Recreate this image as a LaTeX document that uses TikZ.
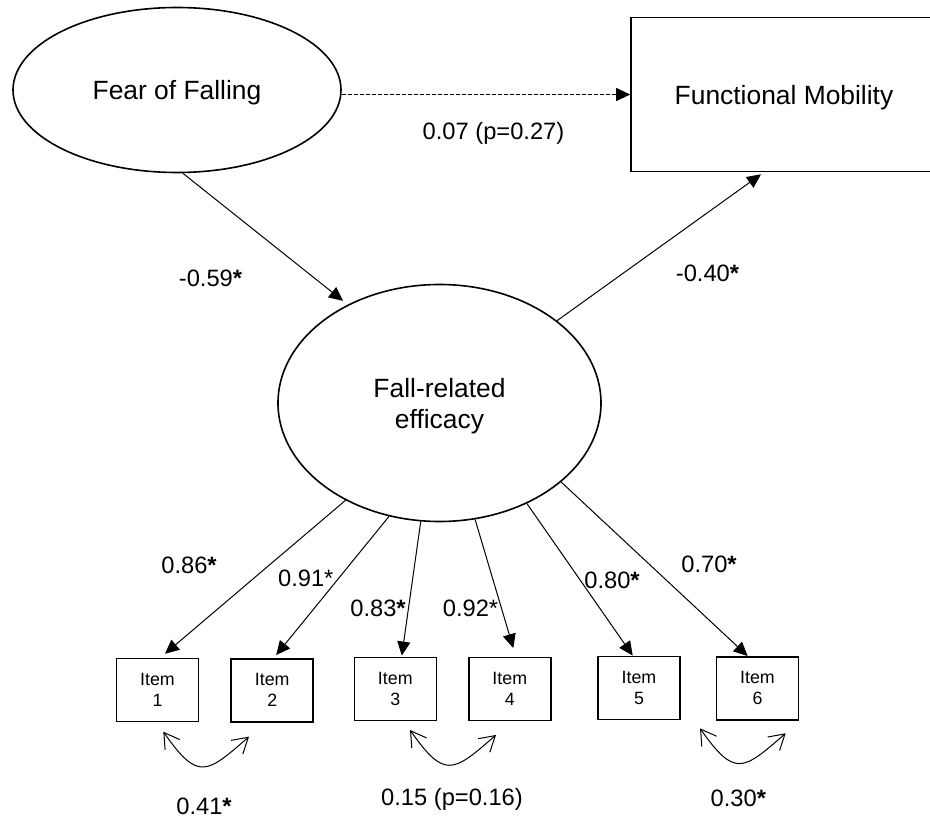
\documentclass[tikz,border=0pt]{standalone}
\usepackage{fontspec}
\setmainfont{Liberation Sans}
\usetikzlibrary{arrows.meta,shapes.geometric}
\begin{document}
\begin{tikzpicture}[x=1pt,y=-1pt,
  latent/.style={ellipse,draw,line width=1.6pt,inner sep=0pt,align=center,
    font=\fontsize{26.4}{31}\selectfont,text depth=0pt},
  obsbig/.style={rectangle,draw,line width=1.6pt,inner sep=0pt,
    font=\fontsize{26.4}{31}\selectfont,text depth=0pt},
  itembox/.style={rectangle,draw,line width=1.5pt,minimum width=82pt,minimum height=63pt,
    inner sep=0pt,align=center,font=\fontsize{17.8}{21}\selectfont,text depth=0pt},
  regarrow/.style={line width=1pt,-{Triangle[length=14pt,width=13pt]}},
  cov/.style={line width=1pt,{Straight Barb[length=15pt,width=18pt]}-{Straight Barb[length=15pt,width=18pt]}},
  lab/.style={anchor=base,font=\fontsize{23.7}{28}\selectfont,inner sep=0pt}
]
\useasboundingbox (0,0) rectangle (930,818);
\clip (0,0) rectangle (930,818);

% nodes
\node[latent,minimum width=328pt,minimum height=165pt] (fof) at (177,90) {Fear of Falling};
\node[obsbig,minimum width=306pt,minimum height=154pt] (fm) at (784,94.5) {Functional Mobility};
\node[latent,minimum width=323pt,minimum height=237pt] (eff) at (439.5,403) {Fall-related\\efficacy};

\node[itembox] (i1) at (157.5,690) {Item\\1};
\node[itembox] (i2) at (272.2,690.3) {Item\\2};
\node[itembox] (i3) at (395.3,688.8) {Item\\3};
\node[itembox] (i4) at (509.8,688.8) {Item\\4};
\node[itembox] (i5) at (639,687.8) {Item\\5};
\node[itembox] (i6) at (757.5,688.3) {Item\\6};

% structural paths
\draw[regarrow,line width=0.9pt,dash pattern=on 4pt off 2pt] (fof.east |- fm.west) -- (fm.west);
\draw[regarrow,shorten >=6pt] (fof.274) -- (eff.133);
\draw[regarrow] (eff.35) -- ([xshift=-23pt,yshift=-2pt]fm.south);

% loadings
\draw[regarrow] (eff.226) -- ([xshift=7.5pt,yshift=4pt]i1.north);
\draw[regarrow] (eff.246) -- ([xshift=4pt,yshift=3pt]i2.north);
\draw[regarrow] (eff.261) -- ([xshift=6.5pt,yshift=1pt]i3.north);
\draw[regarrow] (eff.287) -- ([xshift=3.5pt,yshift=8.5pt]i4.north);
\draw[regarrow] (eff.311) -- ([xshift=-6.3pt]i5.north);
\draw[regarrow] (eff.327) -- ([xshift=-9.8pt]i6.north);

% covariances
\coordinate (c1a) at (163.3,731.7); \coordinate (c1b) at (249,736.7);
\coordinate (c2a) at (410,730);     \coordinate (c2b) at (496,735);
\coordinate (c3a) at (700,728.3);   \coordinate (c3b) at (785.7,733.3);
\draw[cov] (c1a) .. controls +(34.9,49.8) and +(-42.5,36.9) .. (c1b);
\draw[cov] (c2a) .. controls +(34.9,49.8) and +(-42.5,36.9) .. (c2b);
\draw[cov] (c3a) .. controls +(34.9,49.8) and +(-42.5,36.9) .. (c3b);

% labels
\node[lab] (l07) at (493.5,139.5) {0.07 (p=0.27)};
\node[lab] (l59) at (210.5,286.5) {-0.59\textbf{*}};
\node[lab] (l40) at (707.5,281.5) {-0.40\textbf{*}};
\node[lab] (l86) at (189,573.5) {0.86\textbf{*}};
\node[lab] (l91) at (305.8,586.8) {0.91*};
\node[lab] (l83) at (378,616.8) {0.83\textbf{*}};
\node[lab] (l92) at (470.5,616.8) {0.92*};
\node[lab] (l80) at (612,588.5) {0.80\textbf{*}};
\node[lab] (l70) at (709,572.5) {0.70\textbf{*}};
\node[lab] (l41) at (204,814) {0.41\textbf{*}};
\node[lab] (l15) at (452,805.2) {0.15 (p=0.16)};
\node[lab] (l30) at (738.3,806.8) {0.30\textbf{*}};
\end{tikzpicture}
\end{document}
